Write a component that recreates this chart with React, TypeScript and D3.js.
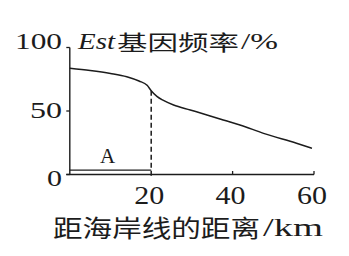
import React from "react";
import * as d3 from "d3";

const distanceKm = [0, 5, 10, 14, 17, 19, 20, 21.4, 23, 25.5, 29.6, 33.7, 37.7, 41.8, 47.6, 55.7, 59.5];
const frequency = [83.6, 81.9, 79.6, 77, 73.6, 70.2, 66, 61.5, 58.3, 54.7, 50.8, 46.9, 42.9, 39, 32.4, 24.6, 20.6];
const xTicks = [20, 40, 60];
const yTicks = [0, 50, 100];
const regionStart = 0;
const regionEnd = 20;
const regionLevel = 3.5;
const regionLabel = "A";
const titleItalic = "Est";
const titleCJK = "基因频率";
const titleUnit = "/%";
const xLabelCJK = "距海岸线的距离";
const xLabelUnit = "/km";

const W = 349;
const H = 256;
const INK = "#1c1c1c";
const SERIF = "'Liberation Serif', 'DejaVu Serif', serif";
const CJK = "'Noto Sans CJK SC', 'Noto Sans', sans-serif";

export default function App() {
  const x = d3.scaleLinear().domain([0, 60]).range([69.8, 314]);
  const y = d3.scaleLinear().domain([0, 100]).range([174.5, 47.5]);
  const pts = distanceKm.map((d, i) => [d, frequency[i]] as [number, number]);
  const line = d3
    .line<[number, number]>()
    .x((d) => x(d[0]))
    .y((d) => y(d[1]))
    .curve(d3.curveMonotoneX);
  const at20 = frequency[distanceKm.indexOf(regionEnd)];

  const yLabelW: Record<number, number> = { 0: 15, 50: 32, 100: 47 };
  const yLabelBase: Record<number, number> = { 0: 186, 50: 118, 100: 49 };

  return (
    <svg
      width={W}
      height={H}
      style={{ position: "absolute", left: 0, top: 0, background: "#fff" }}
    >
      {/* axes */}
      <line x1={x(0)} x2={x(0)} y1={y(100)} y2={y(0) + 0.5} stroke={INK} strokeWidth={1.4} />
      <line x1={x(0) - 3.5} x2={x(60)} y1={y(0)} y2={y(0)} stroke={INK} strokeWidth={1.4} />
      {yTicks.map((t) => (
        <line key={"yt" + t} x1={x(0) - 3.5} x2={x(0)} y1={y(t)} y2={y(t)} stroke={INK} strokeWidth={1.3} />
      ))}
      {xTicks
        .filter((t) => t !== regionEnd)
        .map((t) => (
          <line key={"xt" + t} x1={x(t)} x2={x(t)} y1={y(0)} y2={y(0) - 3.5} stroke={INK} strokeWidth={1.3} />
        ))}

      {/* y tick labels */}
      {yTicks.map((t) => (
        <text
          key={"yl" + t}
          x={62 - yLabelW[t]}
          y={yLabelBase[t]}
          fontFamily={SERIF}
          fontSize={23}
          fill={INK}
          textLength={yLabelW[t]}
          lengthAdjust="spacingAndGlyphs"
        >
          {t}
        </text>
      ))}

      {/* x tick labels */}
      {xTicks.map((t) => (
        <text
          key={"xl" + t}
          x={x(t) - 2 - 15}
          y={204}
          fontFamily={SERIF}
          fontSize={25}
          fill={INK}
          textLength={30}
          lengthAdjust="spacingAndGlyphs"
        >
          {t}
        </text>
      ))}

      {/* curve */}
      <path d={line(pts) || ""} fill="none" stroke={INK} strokeWidth={1.5} />

      {/* dashed drop line at 20 km */}
      <line
        x1={x(regionEnd)}
        x2={x(regionEnd)}
        y1={y(at20)}
        y2={y(0) + 3.5}
        stroke={INK}
        strokeWidth={1.5}
        strokeDasharray="5,3"
      />

      {/* region A */}
      <line x1={x(regionStart)} x2={x(regionEnd)} y1={y(regionLevel)} y2={y(regionLevel)} stroke={INK} strokeWidth={1.3} />
      <text
        x={(x(regionStart) + x(regionEnd)) / 2 - 3}
        y={163}
        textAnchor="middle"
        fontFamily={SERIF}
        fontSize={21}
        fill={INK}
      >
        {regionLabel}
      </text>

      {/* title */}
      <text x={78} y={49} fontFamily={SERIF} fontStyle="italic" fontSize={23} fill={INK} textLength={37} lengthAdjust="spacingAndGlyphs">
        {titleItalic}
      </text>
      <text x={117} y={50} fontFamily={CJK} fontSize={21} fill={INK} textLength={122} lengthAdjust="spacingAndGlyphs">
        {titleCJK}
      </text>
      <text x={241} y={49} fontFamily={SERIF} fontSize={23} fill={INK} textLength={37} lengthAdjust="spacingAndGlyphs">
        {titleUnit}
      </text>

      {/* x axis label */}
      <text x={53} y={236.5} fontFamily={CJK} fontSize={24} fill={INK} textLength={207} lengthAdjust="spacingAndGlyphs">
        {xLabelCJK}
      </text>
      <text x={263} y={236} fontFamily={SERIF} fontSize={26} fill={INK} textLength={60} lengthAdjust="spacingAndGlyphs">
        {xLabelUnit}
      </text>
    </svg>
  );
}
